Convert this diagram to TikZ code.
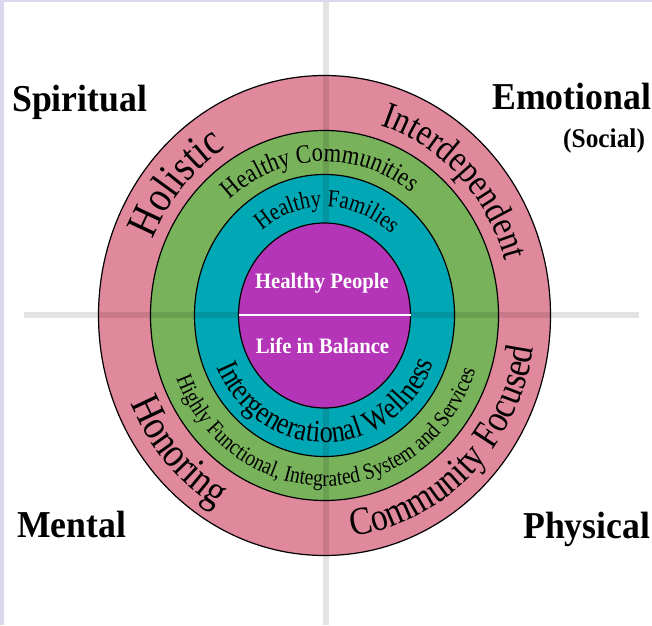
\documentclass[tikz,border=0pt]{standalone}
\usepackage{fontspec}
\setmainfont{Liberation Serif}[FakeStretch=0.94]
\newfontfamily\arcfam{Liberation Serif}[FakeStretch=0.85]
\usetikzlibrary{decorations.text}
\definecolor{ringpink}{HTML}{E0889C}
\definecolor{ringgreen}{HTML}{78B25A}
\definecolor{ringteal}{HTML}{00A8B5}
\definecolor{corepurple}{HTML}{B535B8}
\definecolor{frame}{HTML}{DCD6EE}
\newcommand\ringfs[1]{\fontsize{#1}{#1}\selectfont}
\newcommand\arcfs[1]{\arcfam\fontsize{#1}{#1}\selectfont}
\begin{document}
\begin{tikzpicture}[x=1pt,y=1pt,
  ring/.style={draw=black, line width=1.2pt},
  quad/.style={font=\bfseries\ringfs{38}, anchor=base west, inner sep=0pt},
  core/.style={font=\bfseries\ringfs{22}, text=white, anchor=base, inner sep=0pt},
  band/.style={fill=black, opacity=0.11},
  arctext/.style={decorate, decoration={text along path, text align=center, text={#1}}}]
\useasboundingbox (0,0) rectangle (652,625);
\fill[white] (0,0) rectangle (652,625);
\fill[frame] (0,0) rectangle (4,625);
\fill[frame] (0,623) rectangle (652,625);
\coordinate (c) at (324.5,309.5);
% rings
\draw[ring, fill=ringpink] (c) ellipse[x radius=226pt, y radius=240pt];
\draw[ring, fill=ringgreen] (c) ellipse[x radius=174pt, y radius=185pt];
\draw[ring, fill=ringteal] (c) ellipse[x radius=130pt, y radius=141pt];
% cross bands
\fill[band] (322.5,0) rectangle (328.5,623);
\fill[band] (24,307) rectangle (322.5,313);
\fill[band] (328.5,307) rectangle (639,313);
% core
\draw[ring, fill=corepurple] (c) ellipse[x radius=86pt, y radius=92.5pt];
\coordinate (wl) at (238.5,310);
\coordinate (wr) at (410.5,310);
\draw[white, line width=1.4pt] (wl) -- (wr);
\node[core] (people) at (322,337) {Healthy People};
\node[core] (balance) at (322.5,272) {Life in Balance};
% curved texts, top (clockwise)
\path[arctext={|\arcfs{44}|Holistic}] (c) ++(185:185.5pt and 197.5pt)
  arc[start angle=185, end angle=93, x radius=185.5pt, y radius=197.5pt];
\path[arctext={|\arcfs{37.5}|Interdependent}] (c) ++(100:187.5pt and 199.5pt)
  arc[start angle=100, end angle=-10, x radius=187.5pt, y radius=199.5pt];
\path[arctext={|\arcfs{26.5}|Healthy Communities}] (c) ++(150:143pt and 154pt)
  arc[start angle=150, end angle=34, x radius=143pt, y radius=154pt];
\path[arctext={|\arcfs{24.5}|Healthy Families}] (c) ++(150:100pt and 109pt)
  arc[start angle=150, end angle=27, x radius=100pt, y radius=109pt];
% curved texts, bottom (counter-clockwise)
\path[arctext={|\arcfs{42}|Honoring}] (c) ++(170:211pt and 223pt)
  arc[start angle=170, end angle=274, x radius=211pt, y radius=223pt];
\path[arctext={|\arcfs{39.5}|Community Focused}] (c) ++(250:211pt and 223pt)
  arc[start angle=250, end angle=378, x radius=211pt, y radius=223pt];
\path[arctext={|\arcfs{31}|Intergenerational Wellness}] (c) ++(190:118pt and 127pt)
  arc[start angle=190, end angle=352, x radius=118pt, y radius=127pt];
\path[arctext={|\arcfs{23}|Highly Functional, Integrated System and Services}] (c) ++(180:159.5pt and 170.5pt)
  arc[start angle=180, end angle=363, x radius=159.5pt, y radius=170.5pt];
% quadrant labels
\node[quad] (spiritual) at (12,513) {Spiritual};
\node[quad] (emotional) at (492,515) {Emotional};
\node[quad, font=\bfseries\ringfs{27}] (social) at (563,477) {(Social)};
\node[quad] (mental) at (17,88) {Mental};
\node[quad] (physical) at (523,87) {Physical};
\end{tikzpicture}
\end{document}
